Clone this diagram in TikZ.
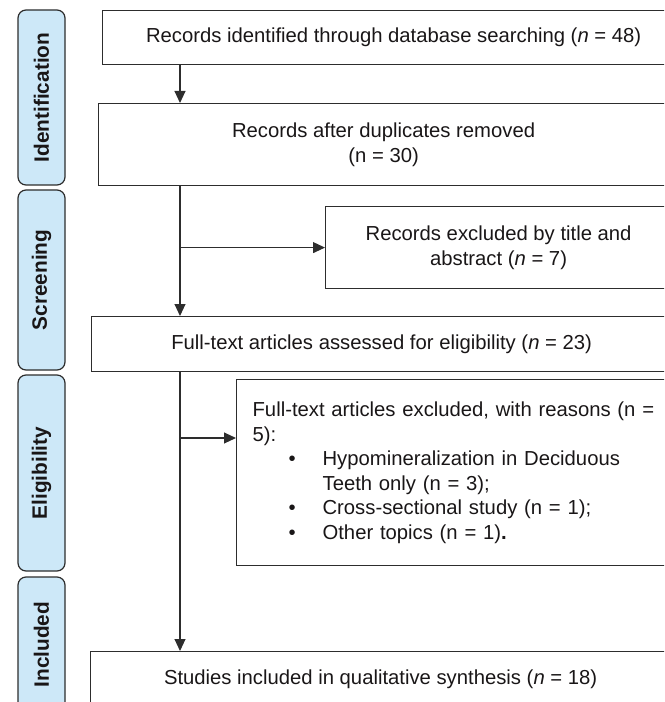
\documentclass[tikz,border=0pt]{standalone}
\usepackage{fontspec}
\setmainfont{Liberation Sans}
\usetikzlibrary{arrows.meta}

\definecolor{stagefill}{RGB}{205,232,248}
\definecolor{linegray}{RGB}{45,45,45}
\definecolor{textgray}{RGB}{25,22,23}

\begin{document}
\begin{tikzpicture}[x=0.75pt, y=-0.75pt, text=textgray,
    font=\fontsize{15.2pt}{18.4pt}\selectfont,
    box/.style={draw=linegray, line width=0.9pt, anchor=north west, align=center, inner sep=0pt},
    stage/.style={draw=linegray, line width=0.9pt, fill=stagefill, rounded corners=6pt, rotate=90,
      minimum height=35.25pt, inner sep=0pt, font=\fontsize{15.6pt}{18pt}\selectfont\bfseries},
    arr/.style={draw=linegray, line width=0.9pt, -{Triangle[length=9pt, width=8.2pt]}}]
    \def\px{0.75pt} % one pixel of the reference
    \def\bul{\hspace*{27pt}\makebox[25.5pt][l]{\textbullet}} % bullet with indent

    \useasboundingbox (0,0) rectangle (664,702);
    \clip (0,0) rectangle (664,702);

    % Stage labels (left column)
    \node[stage, minimum width=175*\px] (ident) at (41.5,97.5) {Identification};
    \node[stage, minimum width=180*\px] (screen) at (41.5,280) {Screening};
    \node[stage, minimum width=196*\px] (elig) at (41.5,473) {Eligibility};
    \node[stage, minimum width=135*\px] (incl) at (41.5,644.5) {Included};

    % Main boxes
    \node[box, minimum width=582*\px, minimum height=54*\px] (found) at (102,10)
      {Records identified through database searching (\textit{n} = 48)};
    \node[box, minimum width=570*\px, minimum height=82*\px] (dedup) at (98,103)
      {Records after duplicates removed\\(n = 30)};
    \node[box, minimum width=346*\px, minimum height=82*\px] (titleabs) at (325,206)
      {Records excluded by title and\\abstract (\textit{n} = 7)};
    \node[box, minimum width=580*\px, minimum height=55*\px] (fulltext) at (91,316)
      {Full-text articles assessed for eligibility (\textit{n} = 23)};
    \node[box, align=left, inner xsep=16*\px, text width=418*\px, minimum height=186*\px] (reasons) at (236,379)
      {Full-text articles excluded, with reasons (n =\\
       5):\\
       \bul Hypomineralization in Deciduous\\
       \hspace*{52.5pt}Teeth only (n = 3);\\
       \bul Cross-sectional study (n = 1);\\
       \bul Other topics (n = 1)\textbf{.}};
    \node[box, minimum width=580*\px, minimum height=56*\px] (included) at (90,651)
      {Studies included in qualitative synthesis (\textit{n} = 18)};

    % Trunk and branches
    \coordinate (trunk) at (180,64);
    \coordinate (reasonsin) at (236,438);
    \draw[arr] (found.south -| trunk) -- (dedup.north -| trunk);
    \draw[arr] (dedup.south -| trunk) -- (fulltext.north -| trunk);
    \draw[arr] (trunk |- titleabs.west) -- (titleabs.west);
    \draw[arr] (fulltext.south -| trunk) -- (included.north -| trunk);
    \draw[arr] (trunk |- reasonsin) -- (reasonsin);

  \end{tikzpicture}
\end{document}
